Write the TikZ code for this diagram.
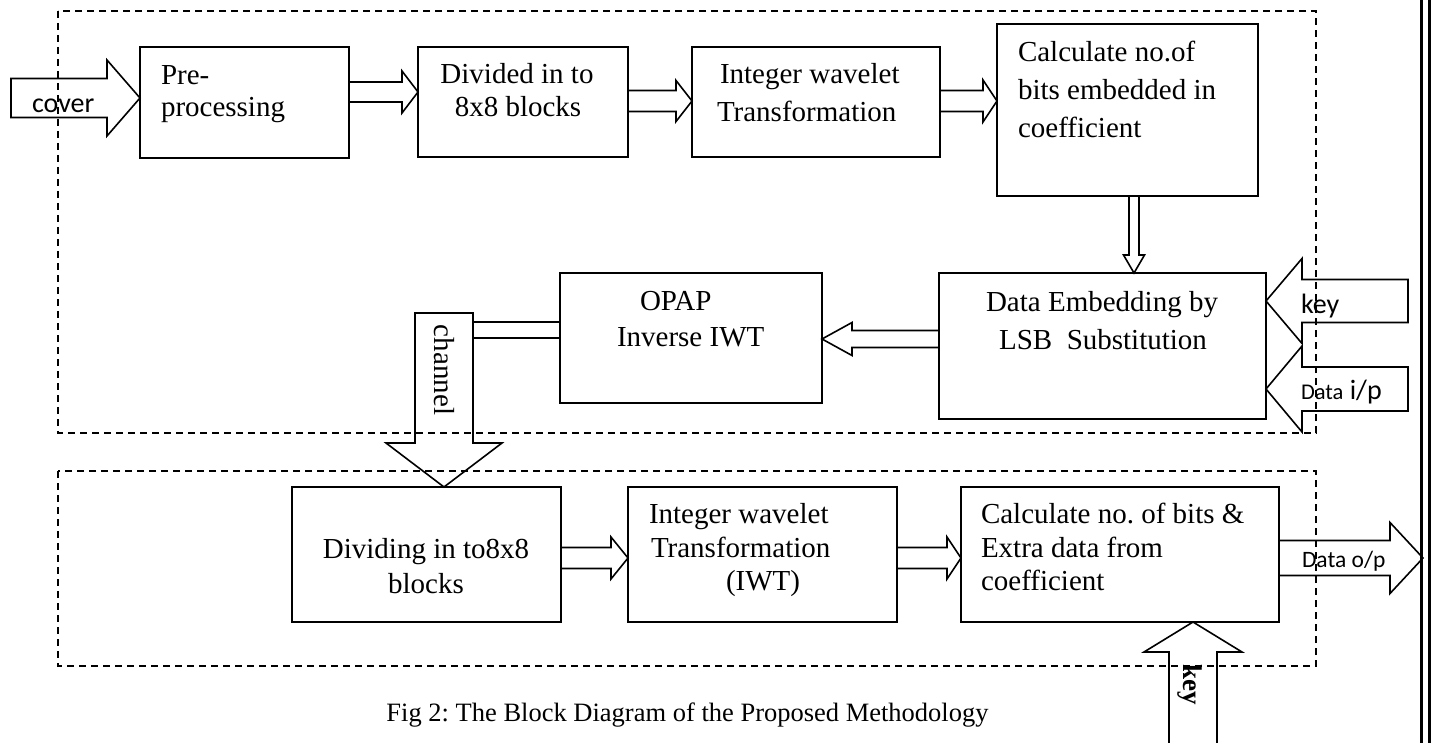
\documentclass[tikz,border=0pt]{standalone}
\usepackage{fontspec}
\setmainfont{Liberation Serif}
\newfontfamily\calib{Carlito}
\usetikzlibrary{calc}
\frenchspacing
\tikzset{
  box/.style={draw, line width=1.8pt, inner sep=0pt, outer sep=0pt, anchor=north west},
  blk/.style={draw, line width=1.6pt, line join=miter},
  dashbox/.style={draw, line width=1.4pt, dash pattern=on 7pt off 5pt},
  txt/.style={inner sep=0pt, outer sep=0pt, font=\fontsize{29}{35}\selectfont},
  stxt/.style={inner sep=0pt, outer sep=0pt, font=\calib\fontsize{28}{34}\selectfont},
}
% right/left pointing block arrow: tail, tip, half shaft, half head, head length
\newcommand\harrowR[5]{\draw[blk] let \p1=(#1),\p2=(#2) in
  (\x1,\y2+#3pt) -- (\x2-#5pt,\y2+#3pt) -- (\x2-#5pt,\y2+#4pt) -- (\x2,\y2)
  -- (\x2-#5pt,\y2-#4pt) -- (\x2-#5pt,\y2-#3pt) -- (\x1,\y2-#3pt) -- cycle;}
\newcommand\harrowL[5]{\draw[blk] let \p1=(#1),\p2=(#2) in
  (\x1,\y2+#3pt) -- (\x2+#5pt,\y2+#3pt) -- (\x2+#5pt,\y2+#4pt) -- (\x2,\y2)
  -- (\x2+#5pt,\y2-#4pt) -- (\x2+#5pt,\y2-#3pt) -- (\x1,\y2-#3pt) -- cycle;}
\newcommand\varrowD[5]{\draw[blk] let \p1=(#1),\p2=(#2) in
  (\x2+#3pt,\y1) -- (\x2+#3pt,\y2+#5pt) -- (\x2+#4pt,\y2+#5pt) -- (\x2,\y2)
  -- (\x2-#4pt,\y2+#5pt) -- (\x2-#3pt,\y2+#5pt) -- (\x2-#3pt,\y1) -- cycle;}
\newcommand\varrowUopen[5]{\draw[blk] let \p1=(#1),\p2=(#2) in
  (\x2+#3pt,\y1) -- (\x2+#3pt,\y2-#5pt) -- (\x2+#4pt,\y2-#5pt) -- (\x2,\y2)
  -- (\x2-#4pt,\y2-#5pt) -- (\x2-#3pt,\y2-#5pt) -- (\x2-#3pt,\y1);}
\begin{document}
\begin{tikzpicture}[x=1pt,y=-1pt]
\fill[white] (0,0) rectangle (1431,743);
\useasboundingbox (0,0) rectangle (1431,743);

% dashed groups
\draw[dashbox] (58,11) rectangle (1316,433);
\draw[dashbox] (58,471) rectangle (1316,666);

% right double border
\draw[line width=3pt] (1421.5,0) -- (1421.5,743);
\draw[line width=3pt] (1429.5,0) -- (1429.5,743);

% boxes
\node[box, minimum width=209, minimum height=111] (pre) at (140,47) {};
\node[box, minimum width=210, minimum height=110] (div) at (418,47) {};
\node[box, minimum width=248, minimum height=110] (iwt) at (692,47) {};
\node[box, minimum width=261, minimum height=172] (calc) at (997,24) {};
\node[box, minimum width=327, minimum height=146] (emb) at (939,273) {};
\node[box, minimum width=262, minimum height=130] (opap) at (560,273) {};
\node[box, minimum width=269, minimum height=135] (dvd) at (292,487) {};
\node[box, minimum width=269, minimum height=135] (iwtb) at (628,487) {};
\node[box, minimum width=318, minimum height=135] (cbits) at (961,487) {};

% free ends
\coordinate (cov) at (11,98.5);
\coordinate (kin) at (1408,300.5);
\coordinate (din) at (1408,390);
\coordinate (dout) at (1423,558);
\coordinate (kbot) at (1193,743);
\coordinate (ch) at (444,313);

% arrows
\harrowR{cov}{$(pre.north west)+(0,51)$}{19.5}{38}{33}
\harrowR{pre.east}{$(div.north west)+(0,45)$}{10}{21}{16}
\harrowR{div.east}{$(iwt.north west)+(0,54)$}{10.5}{20.5}{16}
\harrowR{iwt.east}{$(calc.north west)+(0,77)$}{10.5}{21}{14}
\varrowD{calc.south}{$(emb.north west)+(195,0)$}{5}{10.5}{18}
\harrowL{emb.west}{$(opap.north east)+(0,66)$}{8.5}{16.5}{30}
\harrowL{kin}{$(emb.north east)+(0,28)$}{21.5}{42.5}{36}
\harrowL{din}{$(emb.north east)+(0,116)$}{22}{43}{36}
\harrowR{dvd.east}{$(iwtb.north west)+(0,71)$}{10.5}{21}{17}
\harrowR{iwtb.east}{$(cbits.north west)+(0,71)$}{10.5}{21}{14}
\harrowR{cbits.east}{dout}{17.5}{35.5}{33}
\varrowUopen{kbot}{$(cbits.south west)+(232,0)$}{24}{49}{30}
% channel
\draw[blk] ($(opap.north west)+(0,49)$) -- ++(-87,0);
\draw[blk] ($(opap.north west)+(0,65)$) -- ++(-87,0);
\varrowD{ch}{$(dvd.north west)+(152,0)$}{29}{58}{44}

% texts
\node[stxt, anchor=base west] (tcov) at (32,113) {cover};
\node[txt, anchor=base west] (tpre1) at (161,85) {Pre-};
\node[txt, anchor=base west] (tpre2) at (161,117) {processing};
\node[txt, anchor=base] (tdiv1) at (517,84) {Divided in to};
\node[txt, anchor=base] (tdiv2) at (518,117) {8x8 blocks};
\node[txt, anchor=base west] (tiwt1) at (720,84) {Integer wavelet};
\node[txt, anchor=base west] (tiwt2) at (717,122) {Transformation};
\node[txt, anchor=base west] (tcal1) at (1018,62) {Calculate no.of};
\node[txt, anchor=base west] (tcal2) at (1018,100) {bits embedded in};
\node[txt, anchor=base west] (tcal3) at (1018,138) {coefficient};
\node[txt, anchor=base west] (topap1) at (640,310) {OPAP};
\node[txt, anchor=base west] (topap2) at (617,346) {Inverse IWT};
\node[txt, anchor=base] (temb1) at (1102,311) {Data Embedding by};
\node[txt, anchor=base] (temb2) at (1103,349) {LSB\ \ Substitution};
\node[stxt, anchor=base west] (tkey) at (1301,313) {key};
\node[stxt, anchor=base west] (tdin) at (1301,399) {{\fontsize{22.5}{27}\selectfont Data} i/p};
\node[txt, rotate=-90] (tch) at (444,370) {channel};
\node[txt, anchor=base] (tdvd1) at (426,558) {Dividing in to8x8};
\node[txt, anchor=base] (tdvd2) at (426,593) {blocks};
\node[txt, anchor=base west] (tiwb1) at (649,523) {Integer wavelet};
\node[txt, anchor=base west] (tiwb2) at (651,557) {Transformation};
\node[txt, anchor=base west] (tiwb3) at (726,590) {(IWT)};
\node[txt, anchor=base west] (tcb1) at (981,523) {Calculate no. of bits \&};
\node[txt, anchor=base west] (tcb2) at (981,557) {Extra data from};
\node[txt, anchor=base west] (tcb3) at (981,590) {coefficient};
\node[stxt, anchor=base west, font=\calib\fontsize{23.5}{28}\selectfont] (tdout) at (1302,567) {Data o/p};
\node[txt, rotate=-90, font=\bfseries\fontsize{27}{32}\selectfont] (tkb) at (1190,685) {key};
\node[txt, anchor=base, font=\fontsize{26.5}{32}\selectfont] (tcap) at (687.5,721) {Fig 2: The Block Diagram of the Proposed Methodology};
\end{tikzpicture}
\end{document}
